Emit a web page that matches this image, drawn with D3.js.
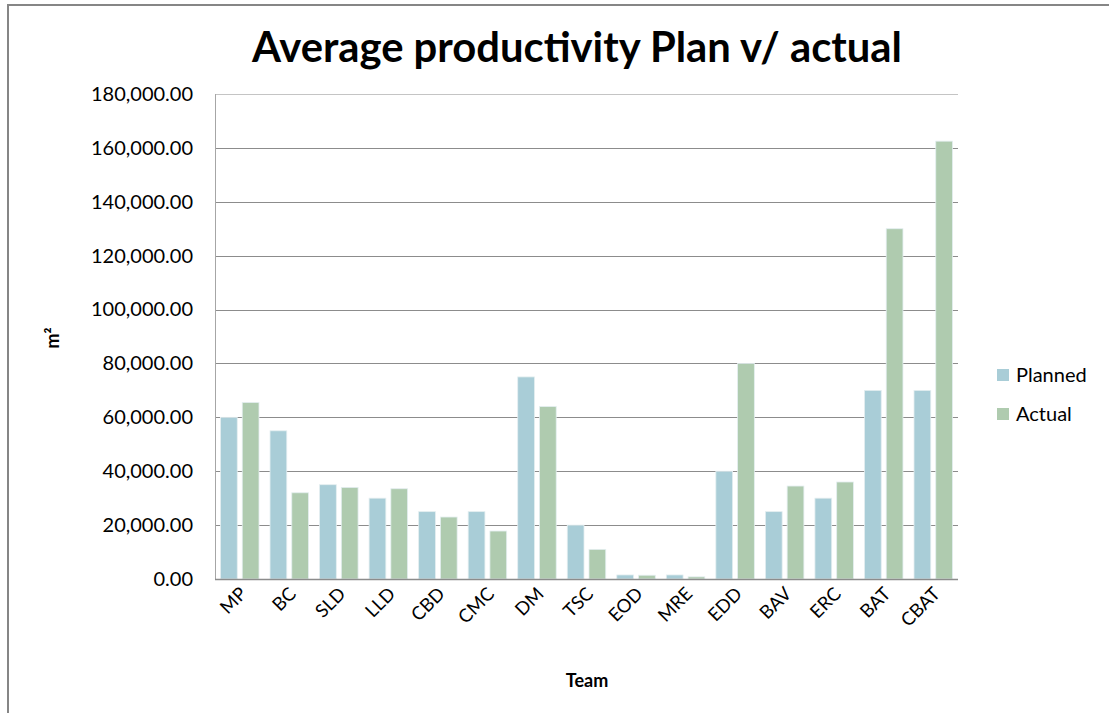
<!DOCTYPE html>
<html>
<head>
<meta charset="utf-8">
<script src="https://cdn.jsdelivr.net/npm/d3@7"></script>
<style>
  html, body { margin: 0; padding: 0; background: #fff; }
  svg { display: block; font-family: Lato, "Noto Sans", sans-serif; }
</style>
</head>
<body>
<svg id="chart" width="1109" height="713"></svg>
<script>
// --- data ---
const teams   = ["MP","BC","SLD","LLD","CBD","CMC","DM","TSC","EOD","MRE","EDD","BAV","ERC","BAT","CBAT"];
const series  = ["Planned", "Actual"];
const planned = [60000, 55000, 35000, 30000, 25000, 25000, 75000, 20000, 1500, 1500, 40000, 25000, 30000, 70000, 70000];
const actual  = [65500, 32000, 34000, 33500, 23000, 17800, 64000, 11000, 1400, 800, 80000, 34500, 36000, 130000, 162500];
const yTicks  = [0, 20000, 40000, 60000, 80000, 100000, 120000, 140000, 160000, 180000];

const colors = { Planned: "#a9cdd7", Actual: "#afcbaf" };

const svg = d3.select("#chart");
const plot = { left: 215, right: 958, top: 94, bottom: 579 };

// chart area border (cut off at right and bottom in the original)
svg.append("rect")
    .attr("x", 8).attr("y", 5)
    .attr("width", 1130).attr("height", 730)
    .attr("fill", "none")
    .attr("stroke", "#868686")
    .attr("stroke-width", 2);

// title, sized to the reference width
const title = svg.append("text")
    .attr("x", 577).attr("y", 62)
    .attr("text-anchor", "middle")
    .style("font-weight", "bold")
    .style("font-size", "38px")
    .style("fill", "#000")
    .text("Average productivity Plan v/ actual");
const tw = title.node().getComputedTextLength();
title.style("font-size", (38 * 650 / tw) + "px");

// --- scales ---
const y = d3.scaleLinear().domain([0, 180000]).range([plot.bottom, plot.top]);
const x0 = d3.scaleBand().domain(teams).range([plot.left, plot.right])
    .paddingInner(0.223).paddingOuter(0.111);
const x1 = d3.scaleBand().domain(series).range([0, x0.bandwidth()]).paddingInner(0.23);

// gridlines
svg.append("g")
    .selectAll("line")
    .data(yTicks.filter(d => d > 0))
    .enter().append("line")
    .attr("x1", plot.left).attr("x2", plot.right)
    .attr("y1", d => Math.round(y(d)) + 0.5)
    .attr("y2", d => Math.round(y(d)) + 0.5)
    .attr("stroke", d => d === 180000 ? "#c4c4c4" : "#8c8c8c")
    .attr("stroke-width", 1);

// y axis (labels only, the axis line drawn separately)
const yAxis = svg.append("g")
    .attr("transform", `translate(${plot.left},0)`)
    .call(d3.axisLeft(y).tickValues(yTicks).tickSize(0).tickPadding(22)
        .tickFormat(d3.format(",.2f")));
yAxis.select(".domain").remove();
yAxis.selectAll("text")
    .style("font-family", "Lato, 'Noto Sans', sans-serif")
    .style("font-size", "20px")
    .style("fill", "#000");

// plot left edge
svg.append("line")
    .attr("x1", plot.left + 0.5).attr("x2", plot.left + 0.5)
    .attr("y1", plot.top).attr("y2", plot.bottom)
    .attr("stroke", "#a6a6a6");

// bars
const rows = teams.map((t, i) => ({ team: t, Planned: planned[i], Actual: actual[i] }));
const groups = svg.append("g").selectAll("g")
    .data(rows)
    .enter().append("g")
    .attr("transform", d => `translate(${x0(d.team)},0)`);

groups.selectAll("rect")
    .data(d => series.map(s => ({ key: s, value: d[s] })))
    .enter().append("rect")
    .attr("x", d => x1(d.key))
    .attr("width", x1.bandwidth())
    .attr("y", d => y(d.value))
    .attr("height", d => plot.bottom - y(d.value))
    .attr("fill", d => colors[d.key])
    .attr("stroke", "#e4eef0")
    .attr("stroke-width", 0.8);

// x axis baseline
svg.append("line")
    .attr("x1", plot.left).attr("x2", plot.right)
    .attr("y1", plot.bottom + 0.5).attr("y2", plot.bottom + 0.5)
    .attr("stroke", "#8c8c8c")
    .attr("stroke-width", 1.5);

// category labels, rotated
svg.append("g").selectAll("text")
    .data(teams)
    .enter().append("text")
    .attr("text-anchor", "end")
    .attr("transform", d => `translate(${x0(d) + x0.bandwidth() / 2 + 8},${plot.bottom + 16}) rotate(-45)`)
    .style("font-size", "18.5px")
    .style("fill", "#000")
    .text(d => d);

// axis titles
svg.append("text")
    .attr("x", 587).attr("y", 687)
    .attr("text-anchor", "middle")
    .style("font-weight", "bold")
    .style("font-size", "18px")
    .text("Team");

svg.append("text")
    .attr("transform", "translate(59,338) rotate(-90)")
    .attr("text-anchor", "middle")
    .style("font-weight", "bold")
    .style("font-size", "18px")
    .text("m²");

// legend
const legend = svg.append("g").attr("transform", "translate(997,369)");
const li = legend.selectAll("g")
    .data(series)
    .enter().append("g")
    .attr("transform", (d, i) => `translate(0,${i * 39})`);
li.append("rect")
    .attr("width", 12).attr("height", 12)
    .attr("fill", d => colors[d]);
li.append("text")
    .attr("x", 19).attr("y", 12.5)
    .style("font-size", "20px")
    .style("fill", "#000")
    .text(d => d);
</script>
</body>
</html>
